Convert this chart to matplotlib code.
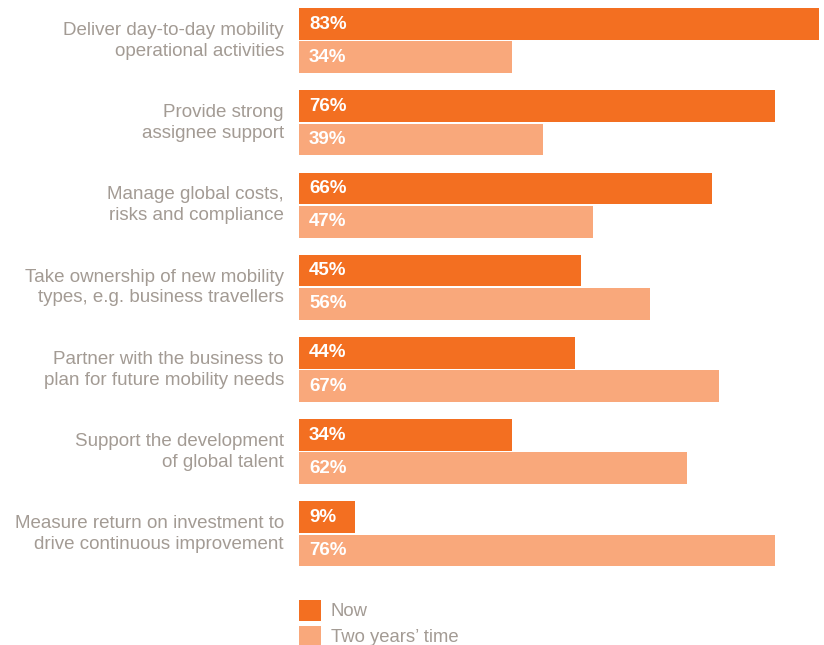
import matplotlib.pyplot as plt
from matplotlib.patches import Rectangle

plt.rcParams['font.family'] = ['Liberation Sans', 'DejaVu Sans']

categories = [
    "Deliver day-to-day mobility\noperational activities",
    "Provide strong\nassignee support",
    "Manage global costs,\nrisks and compliance",
    "Take ownership of new mobility\ntypes, e.g. business travellers",
    "Partner with the business to\nplan for future mobility needs",
    "Support the development\nof global talent",
    "Measure return on investment to\ndrive continuous improvement",
]
now = [83, 76, 66, 45, 44, 34, 9]
two_years = [34, 39, 47, 56, 67, 62, 76]
series_names = ["Now", "Two years\u2019 time"]

DARK = '#F36F21'
LIGHT = '#F9A87B'
GREY = '#A39B94'

W, H = 824, 645
fig = plt.figure(figsize=(W / 100, H / 100), dpi=100)

# axes spans pixel rows 0..580, bars start at x=299
ax = fig.add_axes([299 / W, (H - 580) / H, (W - 299) / W, 580 / H])
ax.set_xlim(0, (W - 299) / 6.265)
ax.set_ylim(580 / 82.2 - 8 / 82.2, -8 / 82.2)
ax.axis('off')

bh = 0.385
for i, (a, b) in enumerate(zip(now, two_years)):
    ya = i + 0.195
    yb = i + 0.60
    ax.barh(ya, a, height=bh, color=DARK, linewidth=0)
    ax.barh(yb, b, height=bh, color=LIGHT, linewidth=0)
    ax.text(1.6, ya, f"{a}%", color='white', fontsize=13.5, fontweight='bold',
            va='center', ha='left')
    ax.text(1.6, yb, f"{b}%", color='white', fontsize=13.5, fontweight='bold',
            va='center', ha='left')
    ax.text(-2.4, i + 0.40, categories[i], color=GREY, fontsize=13.5,
            ha='right', va='center', linespacing=1.3, clip_on=False)

# legend drawn as plain squares and text
for k, (name, col) in enumerate(zip(series_names, [DARK, LIGHT])):
    top = 600 + k * 26
    fig.add_artist(Rectangle((299 / W, (H - top - 21) / H), 22 / W, 21 / H,
                             transform=fig.transFigure, color=col, lw=0))
    fig.text(331 / W, (H - top - 11) / H, name, color=GREY, fontsize=13.3,
             va='center', ha='left')

fig.savefig('out.png', dpi=100)
